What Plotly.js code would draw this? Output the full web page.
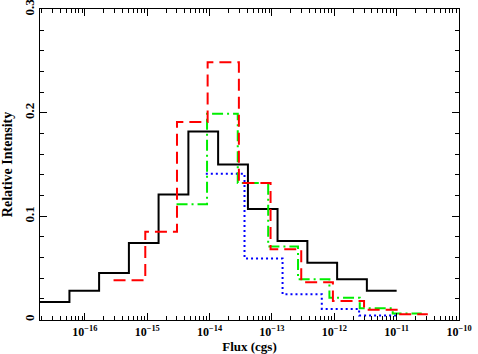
<!DOCTYPE html>
<html>
<head>
<meta charset="utf-8">
<script src="https://cdn.plot.ly/plotly-3.0.1.min.js"></script>
<style>html,body{margin:0;padding:0;background:#fff;}#chart{width:478px;height:354px;}</style>
</head>
<body>
<div id="chart"></div>
<script>
// Bin edges (flux, cgs) and relative intensities
const blackEdges = [1.88e-17, 5.65e-17, 1.69e-16, 5.08e-16, 1.52e-15, 4.57e-15, 1.37e-14, 4.12e-14, 1.23e-13, 3.70e-13, 1.11e-12, 3.33e-12, 1.0e-11];
const blackValues = [0.017, 0.028, 0.045, 0.074, 0.121, 0.182, 0.150, 0.107, 0.076, 0.055, 0.039, 0.028];

const redEdges = [2.88e-16, 9.3e-16, 3.0e-15, 9.3e-15, 2.95e-14, 9.5e-14, 2.95e-13, 9.5e-13, 3.0e-12, 1.0e-11, 3.16e-11];
const redValues = [0.038, 0.085, 0.191, 0.249, 0.132, 0.068, 0.036, 0.018, 0.0094, 0.0051];

const greenEdges = [2.95e-15, 9.1e-15, 2.83e-14, 8.7e-14, 2.62e-13, 8.35e-13, 2.56e-12, 8.65e-12, 2.52e-11];
const greenValues = [0.1115, 0.199, 0.132, 0.0707, 0.039, 0.021, 0.011, 0.006];

const blueEdges = [8.7e-15, 3.63e-14, 1.48e-13, 6.3e-13, 2.5e-12, 1.0e-11];
const blueValues = [0.141, 0.059, 0.0246, 0.0103, 0.0039];

// Axis tick labels
const xTickVals = [1e-16, 1e-15, 1e-14, 1e-13, 1e-12, 1e-11, 1e-10];
const xTickText = ['10<sup>\u221216</sup>', '10<sup>\u221215</sup>', '10<sup>\u221214</sup>', '10<sup>\u221213</sup>', '10<sup>\u221212</sup>', '10<sup>\u221211</sup>', '10<sup>\u221210</sup>'];
const yTickVals = [0, 0.1, 0.2, 0.3];
const yTickText = ['0', '0.1', '0.2', '0.3'];

function stepTrace(edges, values, color, dash, width) {
  const x = edges.slice();
  const y = values.concat([values[values.length - 1]]);
  return {
    type: 'scatter', mode: 'lines', x: x, y: y,
    line: {shape: 'hv', color: color, dash: dash, width: width},
    hoverinfo: 'skip', showlegend: false
  };
}

const traces = [
  stepTrace(blackEdges, blackValues, '#000000', 'solid', 2),
  stepTrace(blueEdges, blueValues, '#0000ff', '2px,3px', 2),
  stepTrace(greenEdges, greenValues, '#00ee00', '11px,4px,2px,4px', 2),
  stepTrace(redEdges, redValues, '#ff0000', '12px,6px', 2)
];

const minorX = [];
for (let e = -17; e <= -11; e++) {
  for (let m = 2; m <= 9; m++) minorX.push(m * Math.pow(10, e));
}
const minorY = [];
for (let v = 0.02; v < 0.3; v += 0.02) minorY.push(Math.round(v * 100) / 100);

const fnt = {family: 'Liberation Serif', size: 14, color: '#000', weight: 'bold'};
const xtfnt = {family: 'Liberation Serif', size: 12, color: '#000', weight: 'bold'};
const ytfnt = {family: 'Liberation Serif', size: 13, color: '#000', weight: 'bold'};

const layout = {
  width: 478, height: 354,
  margin: {l: 40, r: 19, t: 9, b: 34},
  paper_bgcolor: '#fff', plot_bgcolor: '#fff',
  font: fnt,
  xaxis: {
    type: 'log', range: [-16.72, -10],
    tickmode: 'array', tickvals: xTickVals, ticktext: xTickText, ticklabeloverflow: 'allow',
    showline: true, linecolor: '#000', linewidth: 1.2, mirror: 'ticks',
    ticks: 'inside', ticklen: 7, tickwidth: 1, tickcolor: '#000',
    showgrid: false, zeroline: false, tickfont: xtfnt,
    minor: {ticks: 'inside', ticklen: 4, tickwidth: 1, tickcolor: '#000', tickmode: 'array', tickvals: minorX, showgrid: false},
    title: {text: 'Flux (cgs)', font: {family: 'Liberation Serif', size: 13, color: '#000', weight: 'bold'}}
  },
  yaxis: {
    range: [-0.0004, 0.3004], tickmode: 'array', tickvals: yTickVals, ticktext: yTickText, tickangle: -90, ticklabeloverflow: 'allow',
    showline: true, linecolor: '#000', linewidth: 1.2, mirror: 'ticks',
    ticks: 'inside', ticklen: 7, tickwidth: 1, tickcolor: '#000',
    showgrid: false, zeroline: false, tickfont: ytfnt,
    minor: {ticks: 'inside', ticklen: 4, tickwidth: 1, tickcolor: '#000', tickmode: 'array', tickvals: minorY, showgrid: false},
    title: {text: 'Relative Intensity', font: fnt}
  }
};

Plotly.newPlot('chart', traces, layout, {staticPlot: true, displayModeBar: false});
</script>
</body>
</html>
